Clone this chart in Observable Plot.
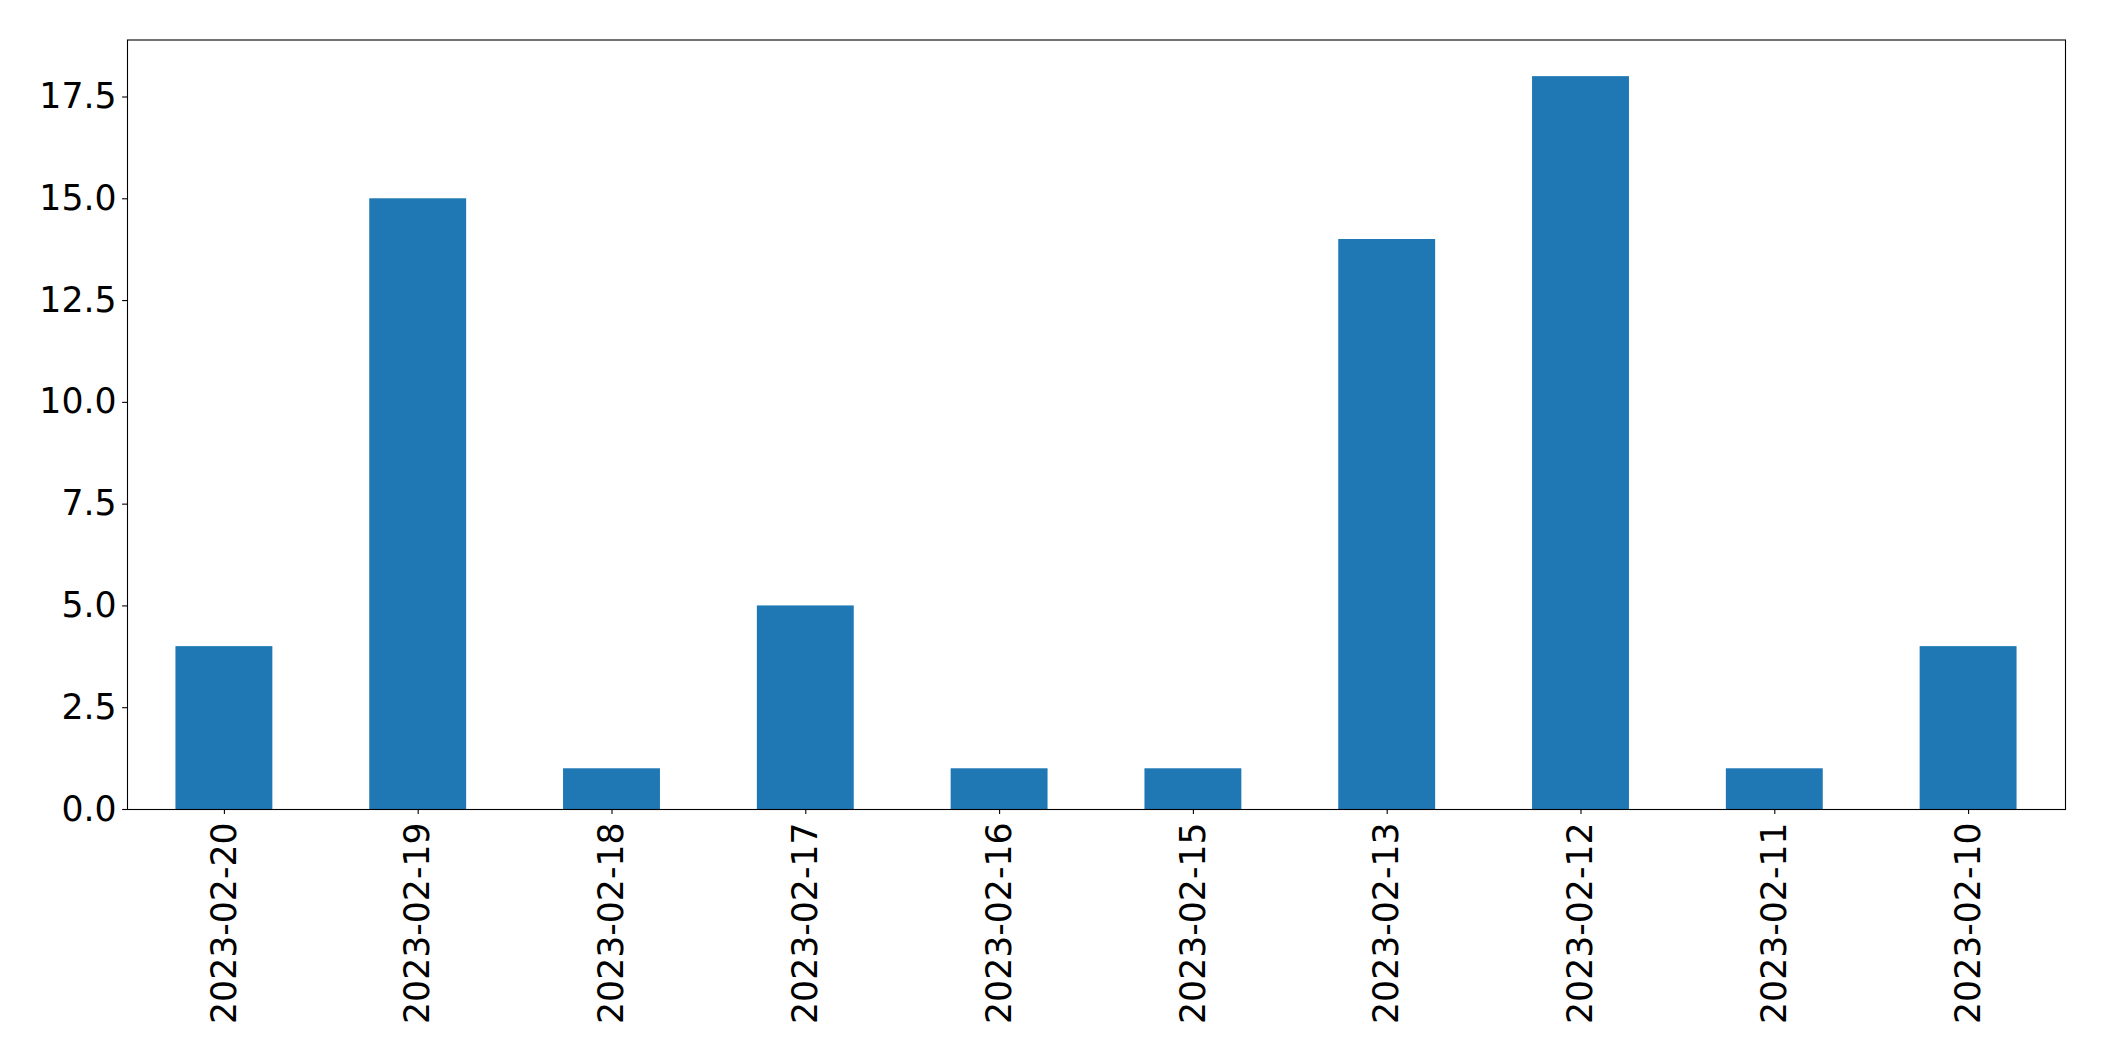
<!DOCTYPE html>
<html>
<head>
<meta charset="utf-8">
<script src="https://cdn.jsdelivr.net/npm/d3@7"></script>
<script src="https://cdn.jsdelivr.net/npm/@observablehq/plot@0.6"></script>
<style>
  html, body { margin: 0; padding: 0; background: #fff; }
  #chart svg { display: block; }
</style>
</head>
<body>
<div id="chart"></div>
<script>
const dates = ["2023-02-20", "2023-02-19", "2023-02-18", "2023-02-17", "2023-02-16",
               "2023-02-15", "2023-02-13", "2023-02-12", "2023-02-11", "2023-02-10"];
const counts = [4, 15, 1, 5, 1, 1, 14, 18, 1, 4];
const yTicks = [0, 2.5, 5, 7.5, 10, 12.5, 15, 17.5];

const data = dates.map((d, i) => ({date: d, count: counts[i]}));

const chart = Plot.plot({
  width: 2104,
  height: 1061,
  marginLeft: 127,
  marginRight: 39,
  marginTop: 39.5,
  marginBottom: 252,
  style: {fontFamily: "DejaVu Sans", fontSize: "34.7px", color: "#000", background: "#fff"},
  x: {type: "band", domain: dates, paddingInner: 0.5, paddingOuter: 0.25, round: false, label: null},
  y: {domain: [0, 18.9], label: null},
  marks: [
    Plot.barY(data, {x: "date", y: "count", fill: "#1f77b4"}),
    Plot.frame({stroke: "#000", strokeWidth: 1.1}),
    Plot.axisY({ticks: yTicks, tickFormat: d => d.toFixed(1), tickSize: 4.9, tickPadding: 6,
                fontSize: 34.7, label: null, stroke: "#000", strokeWidth: 1.1}),
    Plot.axisX({tickRotate: -90, tickSize: 4.9, tickPadding: 8, fontSize: 34.7,
                label: null, stroke: "#000", strokeWidth: 1.1})
  ]
});
document.getElementById("chart").appendChild(chart);
</script>
</body>
</html>
